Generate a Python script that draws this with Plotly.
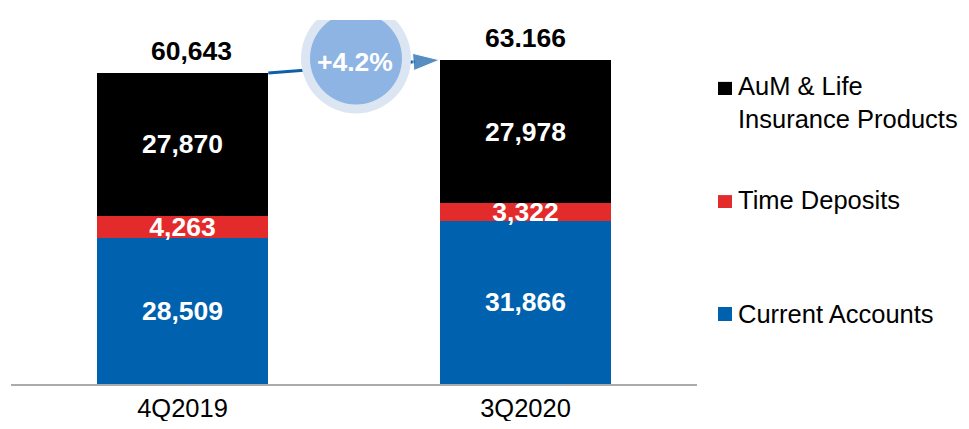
import plotly.graph_objects as go

# data
quarters = ['4Q2019', '3Q2020']
current_accounts = [28509, 31866]
time_deposits = [4263, 3322]
aum_life = [27870, 27978]
totals = [60643, 63166]
total_labels = ['60,643', '63.166']
series_names = ['Current Accounts', 'Time Deposits', 'AuM & Life<br>Insurance Products']

BLUE = '#0061AE'
RED = '#E42B2B'
BLACK = '#000000'
ARROW = '#0F5FA8'
FONT = 'Liberation Sans, Arial, sans-serif'
FS = 26.5

xpos = list(range(len(quarters)))
bar_w = 0.5

fig = go.Figure()
for vals, col in [(current_accounts, BLUE), (time_deposits, RED), (aum_life, BLACK)]:
    fig.add_trace(go.Bar(
        x=xpos, y=vals, width=bar_w, marker=dict(color=col, line=dict(width=0)),
        text=[f'{v:,}' for v in vals], textposition='inside', insidetextanchor='middle',
        textfont=dict(family=FONT, size=FS, color='white', weight='bold'),
        showlegend=False, hoverinfo='skip'))

# growth arrow between bar tops
fig.add_trace(go.Scatter(
    x=[xpos[0] + bar_w / 2, xpos[1] - bar_w / 2], y=totals,
    mode='lines+markers', line=dict(color=ARROW, width=3),
    marker=dict(symbol='arrow', size=[0, 28], angleref='previous', color=ARROW),
    showlegend=False, hoverinfo='skip'))

# totals above bars
for i, (t, lab) in enumerate(zip(totals, total_labels)):
    fig.add_annotation(x=xpos[i], y=t, text=lab, showarrow=False, yanchor='bottom',
                       yshift=5, xshift=9 if i == 0 else 0,
                       font=dict(family=FONT, size=FS, color='black', weight='bold'))

# growth bubble
mid_x = (xpos[0] + xpos[1]) / 2
mid_y = (totals[0] + totals[1]) / 2
growth = (totals[1] / totals[0] - 1) * 100
for r, col in [(55, '#DCE6F2'), (46, '#8DB4E2')]:
    fig.add_shape(type='circle', xref='x', yref='y', xsizemode='pixel', ysizemode='pixel',
                  xanchor=mid_x, yanchor=mid_y, x0=-r + 2, x1=r + 2, y0=8 - r, y1=8 + r,
                  fillcolor=col, line=dict(width=0), layer='above')
fig.add_annotation(x=mid_x, y=mid_y, text=f'+{growth:.1f}%', showarrow=False,
                   xshift=1, yshift=4,
                   font=dict(family=FONT, size=FS, color='white', weight='bold'))

# legend
legend_items = [
    (series_names[2], BLACK, 0.794, 0.830, 0.772),
    (series_names[1], RED, 0.4835, 0.519, 0.5055),
    (series_names[0], BLUE, 0.173, 0.2115, 0.192),
]
for name, col, y0, y1, ty in legend_items:
    fig.add_shape(type='rect', xref='paper', yref='paper', x0=1.0306, x1=1.051,
                  y0=y0, y1=y1, fillcolor=col, line=dict(width=0))
    fig.add_annotation(xref='paper', yref='paper', x=1.0570, y=ty, text=name,
                       showarrow=False, xanchor='left', yanchor='middle', align='left',
                       font=dict(family=FONT, size=25.5, color='black'))

# page body has an 8px margin, so the figure is sized/offset to fill the window
fig.update_layout(
    barmode='stack', width=961, height=413, autosize=False,
    margin=dict(l=3, r=272, t=12, b=37),
    paper_bgcolor='white', plot_bgcolor='white',
    uniformtext=dict(minsize=FS, mode='show'),
    xaxis=dict(range=[-0.5, 1.5], tickvals=xpos, ticktext=quarters, showline=True,
               linecolor='#ABABAB', linewidth=2, ticks='', showgrid=False, zeroline=False,
               ticklabelstandoff=0, automargin=False,
               tickfont=dict(family=FONT, size=25.5, color='black')),
    yaxis=dict(range=[0, 70955], visible=False, automargin=False),
)

fig.write_html('out.html')
